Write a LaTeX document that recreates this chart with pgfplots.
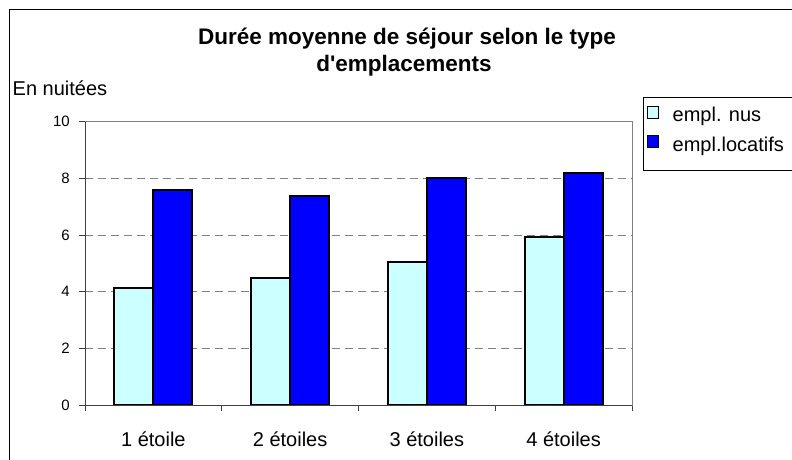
\documentclass[border=0pt]{standalone}
\usepackage{fontspec}
\setmainfont{Liberation Sans}[Ligatures=TeXOff]
\usepackage{pgfplots}
\pgfplotsset{compat=1.18}
\definecolor{lightbar}{HTML}{CCFFFF}
\definecolor{darkbar}{HTML}{0000FF}
\definecolor{gridgray}{HTML}{808080}
\definecolor{axisdark}{HTML}{404040}
\begin{document}
\begin{tikzpicture}[x=1pt,y=1pt]
\useasboundingbox (0,0) rectangle (792,459);
\draw[black, line width=1pt] (9.5,-20) -- (9.5,449.5) -- (820,449.5);
\node[anchor=base, inner sep=0pt, font=\fontsize{22.5}{27}\selectfont\bfseries] at (407,414.7) {Durée moyenne de séjour selon le type};
\node[anchor=base, inner sep=0pt, font=\fontsize{22.5}{27}\selectfont\bfseries] at (404,387.3) {d'emplacements};
\node[anchor=base west, inner sep=0pt, font=\fontsize{20}{24}\selectfont] at (12.5,364) {En nuitées};
\begin{axis}[
  at={(85pt,54pt)}, anchor=south west,
  width=547pt, height=283.3pt, scale only axis,
  xmin=-0.5, xmax=3.5, ymin=0, ymax=10,
  ytick={0,2,4,6,8,10},
  xtick={-0.5,0.5,1.5,2.5,3.5},
  xticklabels={,,,,,},
  extra x ticks={0,1,2,3},
  extra x tick labels={1 étoile,2 étoiles,3 étoiles,4 étoiles},
  extra x tick style={tick style={draw=none}, tick label style={font=\fontsize{20}{24}\selectfont, anchor=base, yshift=-35pt, inner sep=0pt}},
  tick align=outside,
  tick pos=left,
  major tick length=6pt,
  tick style={axisdark, line width=0.9pt},
  /pgf/number format/assume math mode=true,
  yticklabel style={font=\fontsize{15}{18}\selectfont, anchor=east, inner sep=0pt, xshift=-9pt},
  ymajorgrids,
  grid style={gridgray, dash pattern=on 8pt off 5pt, line width=1pt},
  axis line style={gridgray, line width=1pt},
  ybar=0pt, bar width=39pt,
  legend style={at={(1.0201,1.0883)}, anchor=north west, draw=black, line width=0.8pt,
    font=\fontsize{20}{24}\selectfont, legend cell align=left,
    inner xsep=3.3pt, inner ysep=9pt, column sep=13.4pt, row sep=3.3pt,
    nodes={inner sep=0pt, text height=14pt, text depth=10pt}},
  legend image code/.code={\draw[#1, draw=black, line width=1pt] (0pt,1.7pt) rectangle (11.6pt,13.4pt);},
]
\addplot[fill=lightbar, draw=black, line width=2pt] coordinates {(0,4.14) (1,4.49) (2,5.06) (3,5.92)};
\addplot[fill=darkbar, draw=black, line width=2pt] coordinates {(0,7.59) (1,7.39) (2,8.02) (3,8.18)};
\draw[axisdark, line width=1pt] (rel axis cs:0,1) -- (rel axis cs:0,0) -- (rel axis cs:1,0);
\legend{empl. nus, empl.locatifs\hspace*{40pt}}
\end{axis}
\end{tikzpicture}
\end{document}
